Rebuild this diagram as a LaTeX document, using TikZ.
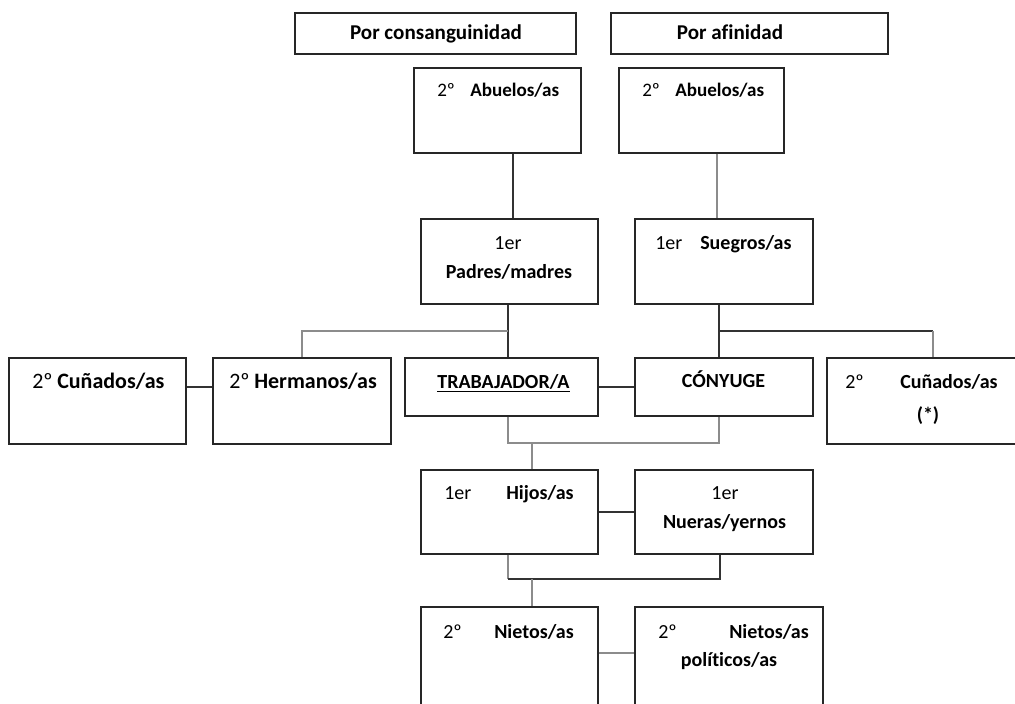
\documentclass[tikz,border=0pt]{standalone}
\usepackage{fontspec}
\setmainfont{Carlito}[Ligatures=NoCommon]
\usetikzlibrary{fit,calc}
\begin{document}
\begin{tikzpicture}[x=0.75pt,y=-0.75pt,
  pbox/.style={draw=black!85,line width=1pt,inner sep=0pt,rectangle},
  conn/.style={draw=black!80,line width=0.9pt},
  connl/.style={draw=black!45,line width=0.9pt},
  txt/.style={inner sep=0pt,anchor=base,font=\fontsize{15}{18}\selectfont},
  lbl/.style={txt,font=\fontsize{15}{18}\selectfont\bfseries},
  num/.style={txt,anchor=base west},
  wrd/.style={lbl,anchor=base west},
  big/.style={font=\fontsize{16.5}{19}\selectfont},
  bigb/.style={font=\fontsize{16.5}{19}\selectfont\bfseries},
  sml/.style={font=\fontsize{14.3}{17}\selectfont},
  smlb/.style={font=\fontsize{14.3}{17}\selectfont\bfseries}]
\fill[white] (0,0) rectangle (1015,704);
\useasboundingbox (0,0) rectangle (1015,704);
\clip (0,0) rectangle (1015,704);
% boxes
\node[pbox,fit={(295,13) (576,54)}] (h1) {};
\node[pbox,fit={(611,13) (888,54)}] (h2) {};
\node[pbox,fit={(414,68) (581,153)}] (ab1) {};
\node[pbox,fit={(619,68) (784,153)}] (ab2) {};
\node[pbox,fit={(421,219) (598,304)}] (pad) {};
\node[pbox,fit={(635,219) (813,304)}] (sue) {};
\node[pbox,fit={(9,358) (186,444)}] (cu1) {};
\node[pbox,fit={(213,358) (391,444)}] (her) {};
\node[pbox,fit={(405,358) (598,416)}] (tra) {};
\node[pbox,fit={(635,358) (813,416)}] (con) {};
\node[pbox,fit={(827,358) (1040,444)}] (cu2) {};
\node[pbox,fit={(421,470) (598,554)}] (hij) {};
\node[pbox,fit={(635,470) (813,554)}] (nue) {};
\node[pbox,fit={(421,607) (598,740)}] (nie) {};
\node[pbox,fit={(635,607) (823,740)}] (nip) {};
% texts
\node[lbl,font=\fontsize{15.8}{19}\selectfont\bfseries] (th1) at (436,39) {Por consanguinidad};
\node[lbl,font=\fontsize{15.8}{19}\selectfont\bfseries] (th2) at (730,39) {Por afinidad};
\node[num,sml] (n1) at (437,96) {2º};
\node[wrd,smlb] (w1) at (470,96) {Abuelos/as};
\node[num,sml] (n2) at (642,96) {2º};
\node[wrd,smlb] (w2) at (675,96) {Abuelos/as};
\node[txt] (n3) at (508,249) {1er};
\node[lbl] (w3) at (509,278) {Padres/madres};
\node[num] (n4) at (655,249) {1er};
\node[wrd] (w4) at (700,249) {Suegros/as};
\node[num,big] (n5) at (32,388) {2º};
\node[wrd,bigb] (w5) at (57,388) {Cuñados/as};
\node[num,big] (n6) at (229,388) {2º};
\node[wrd,bigb] (w6) at (254,388) {Hermanos/as};
\node[lbl] (w7) at (503.5,388) {\underline{TRABAJADOR/A}};
\node[lbl] (w8) at (723.5,387) {CÓNYUGE};
\node[num] (n9) at (845,388) {2º};
\node[wrd] (w9) at (900,388) {Cuñados/as};
\node[lbl] (w9b) at (928,421) {(*)};
\node[num] (n10) at (444,499) {1er};
\node[wrd] (w10) at (506,499) {Hijos/as};
\node[txt] (n11) at (725,499) {1er};
\node[lbl] (w11) at (724.5,528) {Nueras/yernos};
\node[num] (n12) at (443,638) {2º};
\node[wrd] (w12) at (494,638) {Nietos/as};
\node[num] (n13) at (658,638) {2º};
\node[wrd] (w13) at (729,638) {Nietos/as};
\node[lbl] (w13b) at (729,666) {políticos/as};
% helper coordinates
\coordinate (xA) at (508,0);
\coordinate (xB) at (513,0);
\coordinate (xS) at (719,0);
\coordinate (xR) at (717,0);
\coordinate (xC) at (933,0);
\coordinate (xJ) at (532,0);
\coordinate (xK) at (720,0);
\coordinate (yBr) at (0,331);
\coordinate (yL) at (0,387);
\coordinate (yT) at (0,443);
\coordinate (yH) at (0,579);
\coordinate (yN) at (0,653);
% connectors
\draw[conn] (ab1.south -| xB) -- (pad.north -| xB);
\draw[connl] (ab2.south -| xR) -- (sue.north -| xR);
\draw[conn] (pad.south -| xA) -- (tra.north -| xA);
\draw[connl] (xA |- yBr) -| (her.north);
\draw[conn] (sue.south -| xS) -- (con.north -| xS);
\draw[conn] (xS |- yBr) -- (xC |- yBr);
\draw[connl] (xC |- yBr) -- (cu2.north -| xC);
\draw[conn] (cu1.east |- yL) -- (her.west |- yL);
\draw[conn] (tra.east |- yL) -- (con.west |- yL);
\draw[connl] (tra.south -| xA) -- (xA |- yT) -- (xS |- yT) -- (con.south -| xS);
\draw[connl] (xJ |- yT) -- (hij.north -| xJ);
\draw[conn] (hij.east) -- (nue.west);
\draw[connl] (hij.south -| xA) -- (xA |- yH);
\draw[conn] (xA |- yH) -- (xK |- yH) -- (nue.south -| xK);
\draw[connl] (xJ |- yH) -- (nie.north -| xJ);
\draw[connl] (nie.east |- yN) -- (nip.west |- yN);
\end{tikzpicture}
\end{document}
